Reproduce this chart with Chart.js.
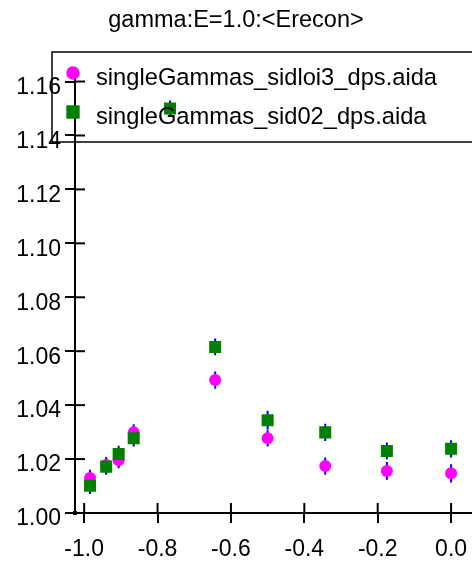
<!DOCTYPE html>
<html>
<head>
<meta charset="utf-8">
<title>gamma:E=1.0:&lt;Erecon&gt;</title>
<script src="https://cdn.jsdelivr.net/npm/chart.js@4.4.0/dist/chart.umd.min.js"></script>
<style>
  html, body { margin: 0; padding: 0; background: #fff; }
  #wrap { width: 472px; height: 562px; position: relative; }
</style>
</head>
<body>
<div id="wrap"><canvas id="erecon-chart"></canvas></div>
<script>
// Mean reconstructed energy vs. position for the two detector models
const titleText = 'gamma:E=1.0:<Erecon>';
const seriesNames = ['singleGammas_sidloi3_dps.aida', 'singleGammas_sid02_dps.aida'];
const xValues = [-0.984, -0.940, -0.906, -0.865, -0.766, -0.643, -0.500, -0.343, -0.175, 0.0];
const loi3Values = [1.0130, 1.0178, 1.0196, 1.0299, null, 1.0493, 1.0277, 1.0174, 1.0156, 1.0147];
const loi3Errors = [0.0030, 0.0030, 0.0030, 0.0030, 0.0030, 0.0032, 0.0030, 0.0032, 0.0033, 0.0034];
const sid02Values = [1.0101, 1.0172, 1.0219, 1.0277, 1.1500, 1.0616, 1.0344, 1.0299, 1.0230, 1.0238];
const sid02Errors = [0.0031, 0.0030, 0.0030, 0.0030, 0.0030, 0.0031, 0.0035, 0.0032, 0.0031, 0.0032];
const xTicks = [-1.0, -0.8, -0.6, -0.4, -0.2, 0.0];
const yTicks = [1.00, 1.02, 1.04, 1.06, 1.08, 1.10, 1.12, 1.14, 1.16];

const FONT = '"Liberation Sans", Arial, Helvetica, sans-serif';
Chart.defaults.font.family = FONT;
Chart.defaults.font.size = 23;
Chart.defaults.color = '#000';

const toPoints = (values, errors) => xValues
    .map((x, i) => ({ x: x, y: values[i], err: errors[i] }))
    .filter(p => p.y !== null);

// Blue vertical error bars, drawn under the markers
const errorBars = {
    id: 'errorBars',
    beforeDatasetsDraw(chart) {
        const { ctx, chartArea, scales } = chart;
        ctx.save();
        ctx.beginPath();
        ctx.rect(chartArea.left, chartArea.top, chartArea.right - chartArea.left, chartArea.bottom - chartArea.top);
        ctx.clip();
        ctx.strokeStyle = '#0000ff';
        ctx.lineWidth = 2;
        chart.data.datasets.forEach(ds => {
            ds.data.forEach(p => {
                const px = scales.x.getPixelForValue(p.x);
                ctx.beginPath();
                ctx.moveTo(px, scales.y.getPixelForValue(p.y - p.err));
                ctx.lineTo(px, scales.y.getPixelForValue(p.y + p.err));
                ctx.stroke();
            });
        });
        ctx.restore();
    }
};

// Inner half of the tick marks so they cross the axis lines
const crossTicks = {
    id: 'crossTicks',
    afterDatasetsDraw(chart) {
        const { ctx, chartArea, scales } = chart;
        ctx.save();
        ctx.strokeStyle = '#000';
        ctx.lineWidth = 2;
        scales.y.ticks.forEach(t => {
            const py = scales.y.getPixelForValue(t.value);
            ctx.beginPath();
            ctx.moveTo(chartArea.left, py);
            ctx.lineTo(chartArea.left + 10, py);
            ctx.stroke();
        });
        scales.x.ticks.forEach(t => {
            const px = scales.x.getPixelForValue(t.value);
            ctx.beginPath();
            ctx.moveTo(px, chartArea.bottom);
            ctx.lineTo(px, chartArea.bottom - 10);
            ctx.stroke();
        });
        // small square at the axes corner
        ctx.fillStyle = '#000';
        ctx.fillRect(chartArea.left - 2, chartArea.bottom - 2, 4, 4);
        ctx.restore();
    }
};

// Boxed legend at the top of the plot
const boxLegend = {
    id: 'boxLegend',
    afterDraw(chart) {
        const ctx = chart.ctx;
        ctx.save();
        ctx.strokeStyle = '#000';
        ctx.lineWidth = 1.5;
        ctx.strokeRect(52, 52, 440, 90);
        ctx.font = '23.7px ' + FONT;
        ctx.textBaseline = 'alphabetic';
        ctx.textAlign = 'left';
        chart.data.datasets.forEach((ds, i) => {
            const y = 73 + i * 39;
            ctx.fillStyle = ds.backgroundColor;
            ctx.beginPath();
            if (ds.pointStyle === 'rect') {
                ctx.rect(73 - 6.7, y - 6.7, 13.4, 13.4);
            } else {
                ctx.arc(73, y, 6.7, 0, Math.PI * 2);
            }
            ctx.fill();
            ctx.fillStyle = '#000';
            ctx.fillText(ds.label, 96, y + 12);
        });
        ctx.restore();
    }
};

const axisGrid = {
    display: true,
    drawOnChartArea: false,
    drawTicks: true,
    tickLength: 10,
    color: '#000',
    lineWidth: 2
};

// keep the plot area flush with the canvas edges
const noEdgePadding = s => {
    s.paddingLeft = 0;
    s.paddingRight = 0;
    s.paddingTop = 0;
    s.paddingBottom = 0;
};

new Chart(document.getElementById('erecon-chart'), {
    type: 'scatter',
    data: {
        datasets: [
            {
                label: seriesNames[0],
                data: toPoints(loi3Values, loi3Errors),
                pointStyle: 'circle',
                pointRadius: 6,
                pointBorderWidth: 0,
                backgroundColor: '#ff00ff',
                borderColor: '#ff00ff',
                order: 1
            },
            {
                label: seriesNames[1],
                data: toPoints(sid02Values, sid02Errors),
                pointStyle: 'rect',
                pointRadius: 8.5,
                pointBorderWidth: 0,
                backgroundColor: '#008000',
                borderColor: '#008000',
                order: 0
            }
        ]
    },
    options: {
        responsive: true,
        maintainAspectRatio: false,
        animation: false,
        events: [],
        layout: { padding: 0, autoPadding: false },
        plugins: {
            legend: { display: false },
            tooltip: { enabled: false },
            title: {
                display: true,
                text: titleText,
                color: '#000',
                font: { size: 23.5, weight: 'normal' },
                padding: { top: 6, bottom: 46 }
            }
        },
        scales: {
            x: {
                type: 'linear',
                min: -1.025,
                max: 0.057,
                bounds: 'data',
                afterBuildTicks: s => { s.ticks = xTicks.map(v => ({ value: v })); },
                afterFit: s => { s.height = 49; noEdgePadding(s); },
                ticks: {
                    callback: v => v.toFixed(1),
                    padding: 13,
                    maxRotation: 0,
                    autoSkip: false
                },
                grid: axisGrid,
                border: { display: true, color: '#000', width: 2 }
            },
            y: {
                type: 'linear',
                min: 1.0,
                max: 1.1605,
                bounds: 'data',
                afterBuildTicks: s => { s.ticks = yTicks.map(v => ({ value: v })); },
                afterFit: s => { s.width = 75; noEdgePadding(s); },
                ticks: {
                    callback: v => v.toFixed(2),
                    padding: 4,
                    labelOffset: 6,
                    autoSkip: false
                },
                grid: axisGrid,
                border: { display: true, color: '#000', width: 2 }
            }
        }
    },
    plugins: [errorBars, crossTicks, boxLegend]
});
</script>
</body>
</html>
